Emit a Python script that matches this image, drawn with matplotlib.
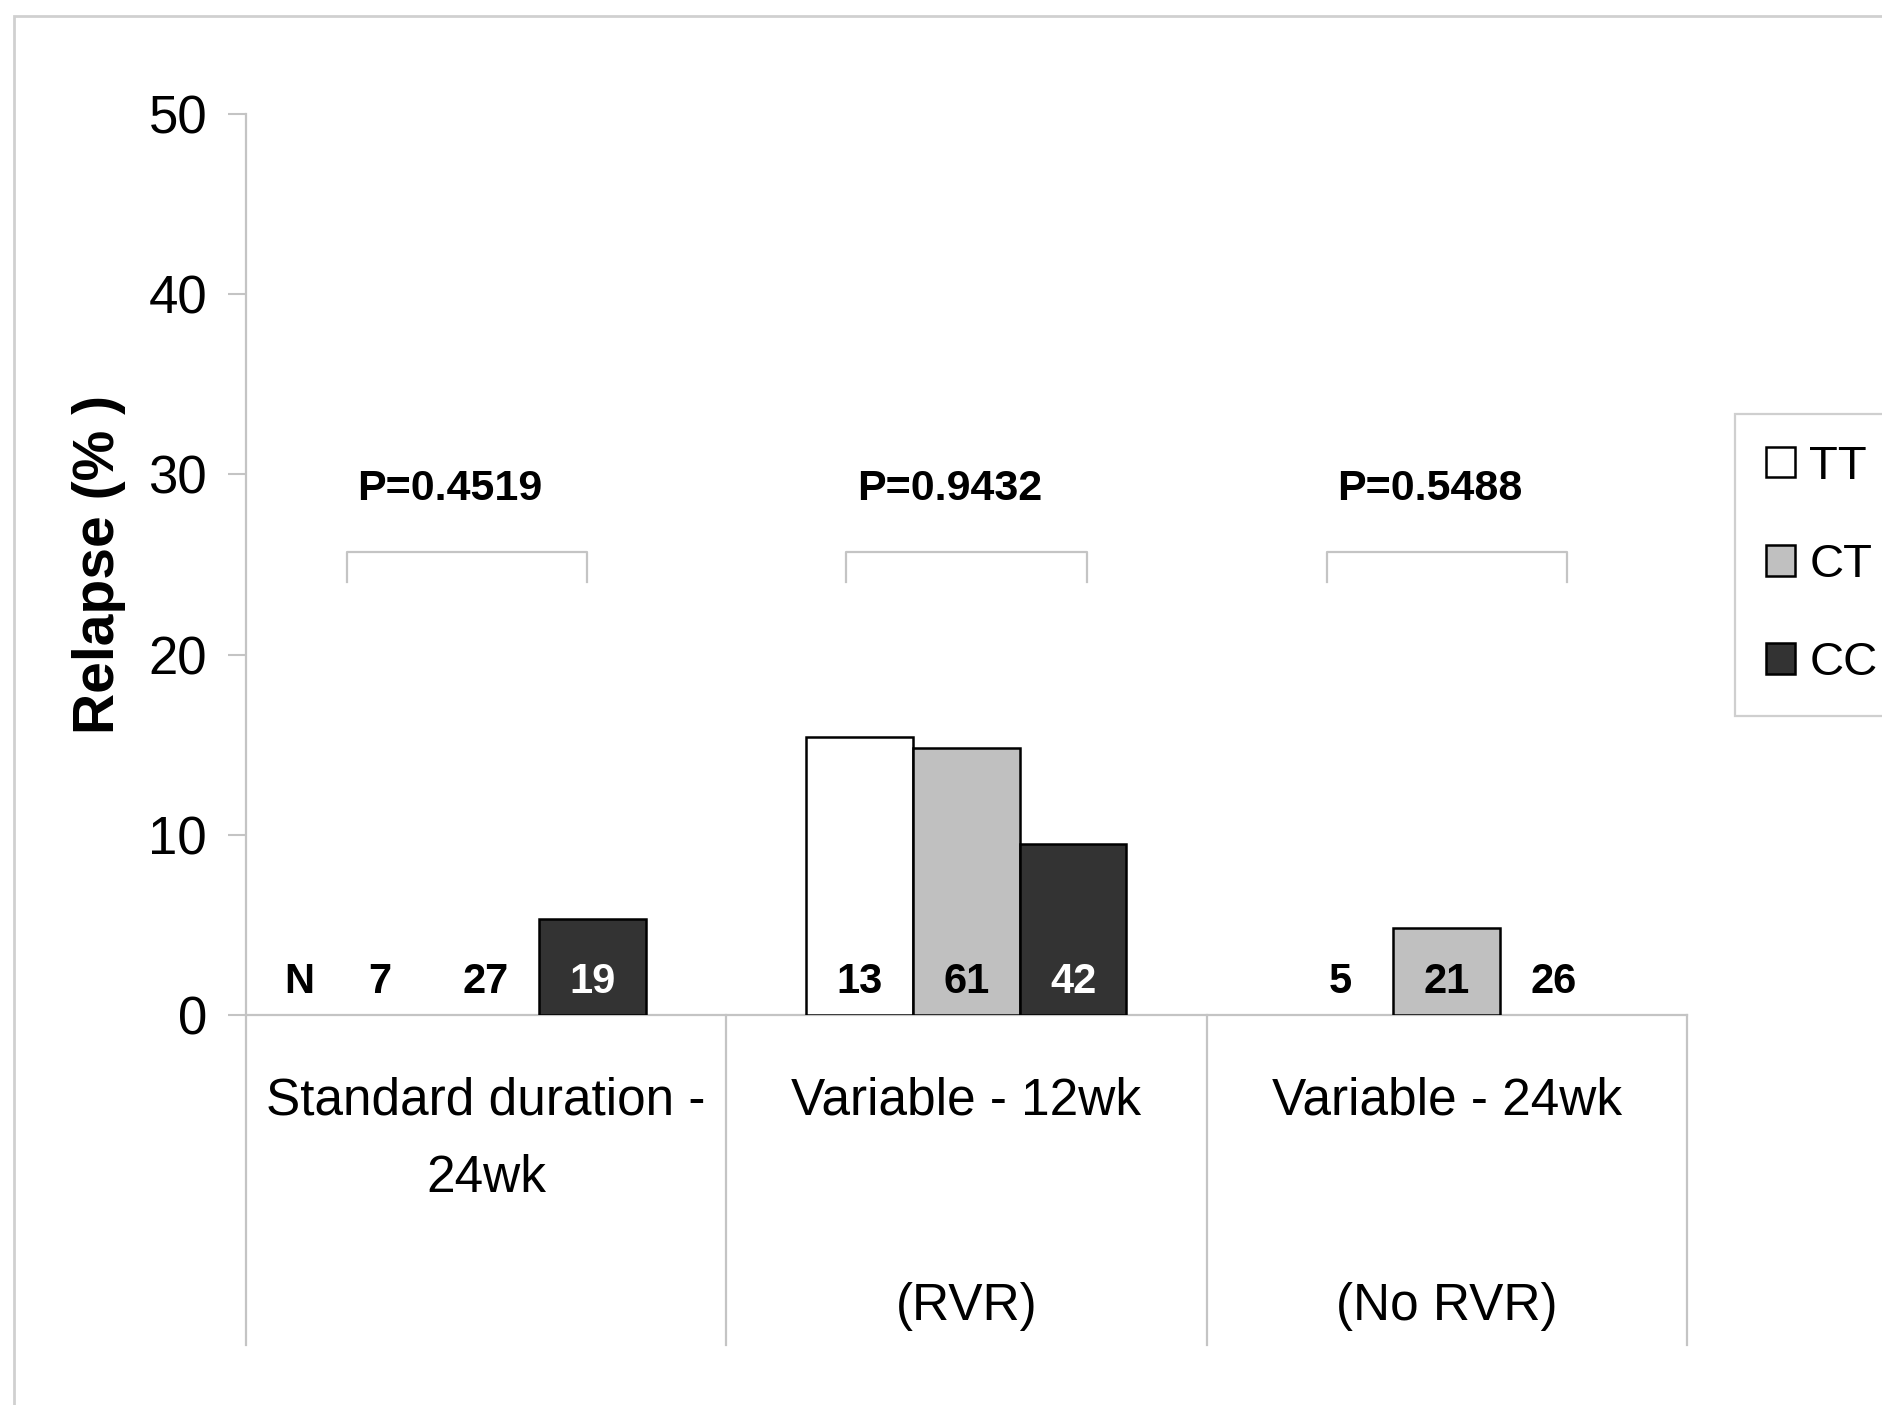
import numpy as np
import matplotlib
matplotlib.use("Agg")
import matplotlib.pyplot as plt
from matplotlib.patches import Patch, Rectangle

# values (relapse %)
categories = ["Standard duration -\n24wk", "Variable - 12wk", "Variable - 24wk"]
subtitles = ["", "(RVR)", "(No RVR)"]
genotypes = ["TT", "CT", "CC"]
tt_vals = [0, 15.4, 0]
ct_vals = [0, 14.8, 4.8]
cc_vals = [5.3, 9.5, 0]
tt_n = [7, 13, 5]
ct_n = [27, 61, 21]
cc_n = [19, 42, 26]
p_values = ["P=0.4519", "P=0.9432", "P=0.5488"]

colors = ["white", "#c0c0c0", "#333333"]
grey = "#c4c4c4"
font = "Liberation Sans"

fig = plt.figure(figsize=(18.83, 14.05), dpi=100)
ax = fig.add_axes([0.1306, 0.2776, 0.7653, 0.6413])

x = np.arange(len(categories))
w = 0.222
series = [tt_vals, ct_vals, cc_vals]
counts = [tt_n, ct_n, cc_n]

for i, (vals, col) in enumerate(zip(series, colors)):
    lw = [1.8 if v > 0 else 0 for v in vals]
    ax.bar(x + (i - 1) * w, vals, w, color=col, edgecolor="black", linewidth=lw,
           zorder=3, label=genotypes[i])
    for j, n in enumerate(counts[i]):
        tc = "white" if (col == "#333333" and vals[j] > 0) else "black"
        ax.text(x[j] + (i - 1) * w, 1.83, str(n), ha="center", va="center",
                fontsize=30, fontweight="bold", color=tc, family=font, zorder=4)

ax.text(-0.39, 1.83, "N", ha="center", va="center", fontsize=30, fontweight="bold",
        family=font)

# p-value brackets
for j, p in enumerate(p_values):
    shift = 0.04 if j == 0 else 0
    xl, xr = x[j] - 0.25 - shift, x[j] + 0.25 - shift
    ax.plot([xl, xl, xr, xr], [24.0, 25.7, 25.7, 24.0], color=grey, lw=1.6, clip_on=False)
    ax.text(x[j] - 0.035 - shift, 29.2, p, ha="center", va="center",
            fontsize=31, fontweight="bold", family=font)

ax.set_xlim(-0.5, 2.5)
ax.set_ylim(0, 50)
ax.set_yticks(range(0, 51, 10))
ax.set_xticks([])
for s in ax.spines.values():
    s.set_visible(False)
ax.tick_params(axis="y", direction="out", length=13, width=1.5, color=grey, pad=15)
for lab in ax.get_yticklabels():
    lab.set_family(font)
    lab.set_fontsize(38)

# axis lines and category separators reaching below zero
ybot = -18.3
ax.plot([-0.5, -0.5], [50, ybot], color=grey, lw=1.6, clip_on=False)
ax.plot([-0.5, 2.5], [0, 0], color=grey, lw=1.6, clip_on=False)
for xs in [0.5, 1.5, 2.5]:
    ax.plot([xs, xs], [0, ybot], color=grey, lw=1.6, clip_on=False)

for j, c in enumerate(categories):
    ax.text(x[j], -3.4, c, ha="center", va="top", fontsize=37, family=font,
            linespacing=1.75)
    if subtitles[j]:
        ax.text(x[j], -16.2, subtitles[j], ha="center", va="center", fontsize=37,
                family=font)

ax.set_ylabel("Relapse (% )", fontsize=41, fontweight="bold", family=font)
ax.yaxis.set_label_coords(-0.083, 0.5)

handles = [Patch(facecolor=c, edgecolor="black", linewidth=1.8) for c in colors]
leg = fig.legend(handles, genotypes, loc="upper left", bbox_to_anchor=(0.9214, 0.7053),
                 frameon=True, fancybox=False, prop={"family": font, "size": 34},
                 handlelength=0.62, handleheight=0.62, handletextpad=0.3,
                 labelspacing=1.15, borderpad=0.65, borderaxespad=0)
leg.get_frame().set_edgecolor(grey)
leg.get_frame().set_linewidth(1.6)

# outer frame of the picture
fig.patches.append(Rectangle((14 / 1883, -0.05), 1.1, 1 - 16 / 1405 + 0.05,
                             transform=fig.transFigure, fill=False,
                             edgecolor="#d0d0d0", lw=2))

fig.savefig("out.png", dpi=100)
